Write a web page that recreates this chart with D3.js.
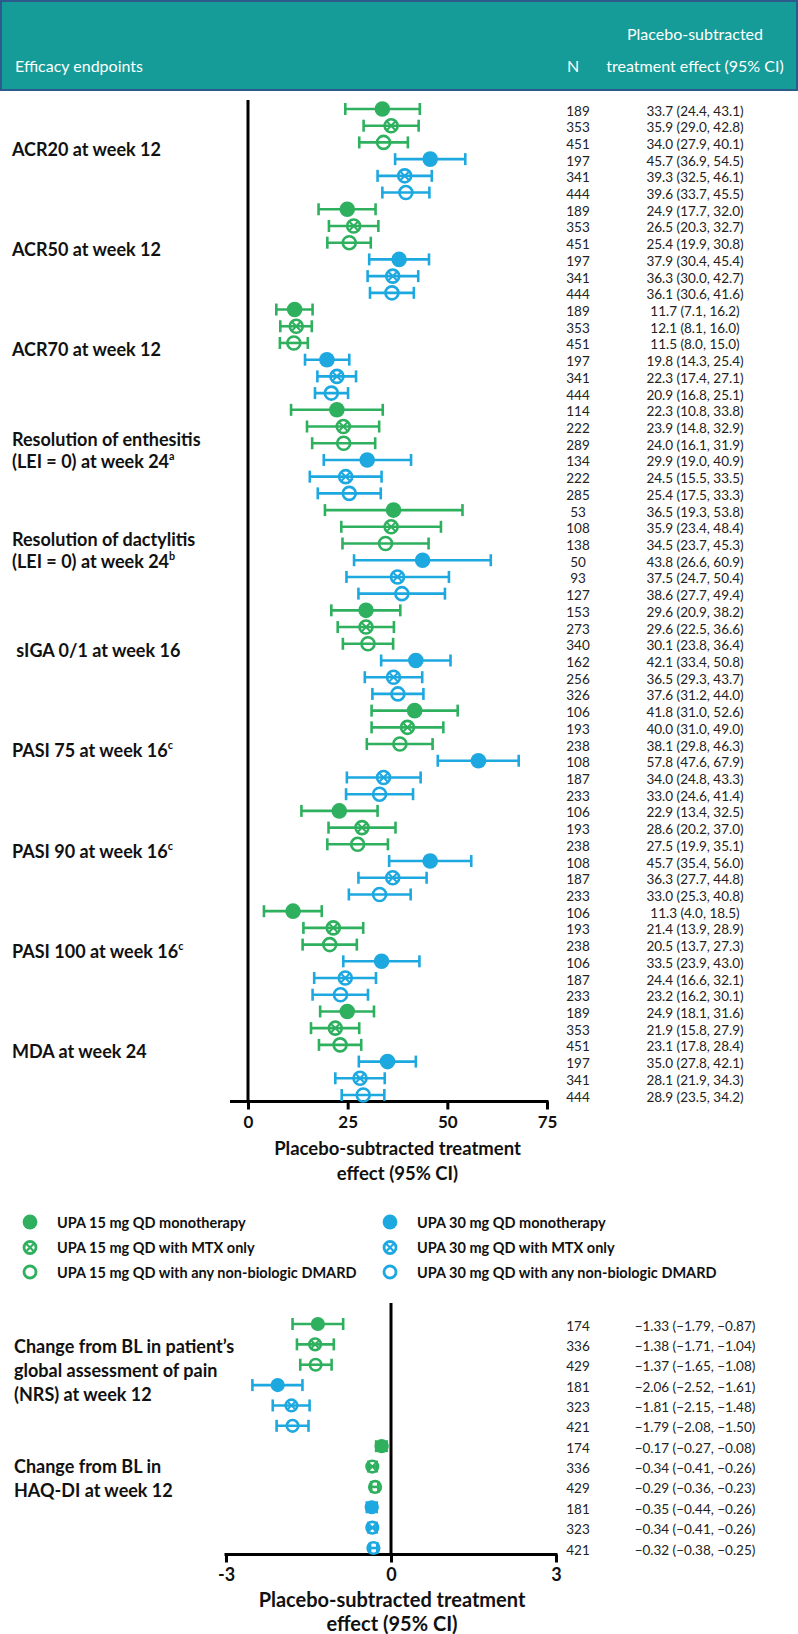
<!DOCTYPE html>
<html><head><meta charset="utf-8">
<script src="https://cdn.jsdelivr.net/npm/d3@7"></script>
<style>
body{margin:0;background:#fff;}
svg{display:block;font-family:Lato,'Open Sans',sans-serif;}
</style></head><body>
<svg id="c" width="798" height="1634"></svg>
<script>
// ---------------- DATA ----------------
const treatments = ["UPA 15 mg QD monotherapy","UPA 15 mg QD with MTX only","UPA 15 mg QD with any non-biologic DMARD",
                    "UPA 30 mg QD monotherapy","UPA 30 mg QD with MTX only","UPA 30 mg QD with any non-biologic DMARD"];
const treatmentDose = ["15","15","15","30","30","30"];
const treatmentMarker = ["filled","crossed","open","filled","crossed","open"];

const topEndpoints = [
  ["ACR20 at week 12"],["ACR50 at week 12"],["ACR70 at week 12"],
  ["Resolution of enthesitis","(LEI = 0) at week 24^a"],
  ["Resolution of dactylitis","(LEI = 0) at week 24^b"],
  [" sIGA 0/1 at week 16"],["PASI 75 at week 16^c"],["PASI 90 at week 16^c"],
  ["PASI 100 at week 16^c"],["MDA at week 24"]];
const topN = [189,353,451,197,341,444, 189,353,451,197,341,444, 189,353,451,197,341,444,
  114,222,289,134,222,285, 53,108,138,50,93,127, 153,273,340,162,256,326,
  106,193,238,108,187,233, 106,193,238,108,187,233, 106,193,238,106,187,233,
  189,353,451,197,341,444];
const topEst = [33.7,35.9,34.0,45.7,39.3,39.6, 24.9,26.5,25.4,37.9,36.3,36.1, 11.7,12.1,11.5,19.8,22.3,20.9,
  22.3,23.9,24.0,29.9,24.5,25.4, 36.5,35.9,34.5,43.8,37.5,38.6, 29.6,29.6,30.1,42.1,36.5,37.6,
  41.8,40.0,38.1,57.8,34.0,33.0, 22.9,28.6,27.5,45.7,36.3,33.0, 11.3,21.4,20.5,33.5,24.4,23.2,
  24.9,21.9,23.1,35.0,28.1,28.9];
const topLo = [24.4,29.0,27.9,36.9,32.5,33.7, 17.7,20.3,19.9,30.4,30.0,30.6, 7.1,8.1,8.0,14.3,17.4,16.8,
  10.8,14.8,16.1,19.0,15.5,17.5, 19.3,23.4,23.7,26.6,24.7,27.7, 20.9,22.5,23.8,33.4,29.3,31.2,
  31.0,31.0,29.8,47.6,24.8,24.6, 13.4,20.2,19.9,35.4,27.7,25.3, 4.0,13.9,13.7,23.9,16.6,16.2,
  18.1,15.8,17.8,27.8,21.9,23.5];
const topHi = [43.1,42.8,40.1,54.5,46.1,45.5, 32.0,32.7,30.8,45.4,42.7,41.6, 16.2,16.0,15.0,25.4,27.1,25.1,
  33.8,32.9,31.9,40.9,33.5,33.3, 53.8,48.4,45.3,60.9,50.4,49.4, 38.2,36.6,36.4,50.8,43.7,44.0,
  52.6,49.0,46.3,67.9,43.3,41.4, 32.5,37.0,35.1,56.0,44.8,40.8, 18.5,28.9,27.3,43.0,32.1,30.1,
  31.6,27.9,28.4,42.1,34.3,34.2];
const topTicks = [0,25,50,75];

const bottomEndpoints = [["Change from BL in patient\u2019s","global assessment of pain","(NRS) at week 12"],
                         ["Change from BL in","HAQ-DI at week 12"]];
const bottomN = [174,336,429,181,323,421, 174,336,429,181,323,421];
const bottomEst = [-1.33,-1.38,-1.37,-2.06,-1.81,-1.79, -0.17,-0.34,-0.29,-0.35,-0.34,-0.32];
const bottomLo = [-1.79,-1.71,-1.65,-2.52,-2.15,-2.08, -0.27,-0.41,-0.36,-0.44,-0.41,-0.38];
const bottomHi = [-0.87,-1.04,-1.08,-1.61,-1.48,-1.50, -0.08,-0.26,-0.23,-0.26,-0.26,-0.25];
const bottomTicks = [-3,0,3];

// ---------------- STYLE ----------------
const doseColor = {"15":"#2eb05e","30":"#1da8e0"};
const svg = d3.select("#c");

// header
svg.append("rect").attr("x",1).attr("y",1).attr("width",796).attr("height",89)
  .attr("fill","#159c98").attr("stroke","#2d5a8c").attr("stroke-width",2);
const hdr = svg.append("g").attr("fill","#fff").style("font-size","16px");
hdr.append("text").attr("x",15).attr("y",65).attr("dominant-baseline","central").text("Efficacy endpoints");
hdr.append("text").attr("x",573).attr("y",65).attr("text-anchor","middle").attr("dominant-baseline","central").text("N");
hdr.append("text").attr("x",695).attr("y",33).attr("text-anchor","middle").attr("dominant-baseline","central").text("Placebo-subtracted");
hdr.append("text").attr("x",695).attr("y",65).attr("text-anchor","middle").attr("dominant-baseline","central").text("treatment effect (95% CI)");

function marker(g, type, color, r, sw){
  if(type==="filled"){
    g.append("circle").attr("r",r+sw/2).attr("fill",color);
  } else {
    g.append("circle").attr("r",r).attr("fill","none").attr("stroke",color).attr("stroke-width",sw);
    if(type==="crossed"){
      const k=r*0.72;
      g.append("path").attr("d",`M${-k},${-k}L${k},${k}M${-k},${k}L${k},${-k}`)
        .attr("stroke",color).attr("stroke-width",sw*0.8);
    }
  }
}

function addLabel(sel, x, y, str, size){
  const t = sel.append("text").attr("x",x).attr("y",y).attr("dominant-baseline","central")
    .style("font-weight","700").style("font-size",size+"px").attr("fill","#111").attr("xml:space","preserve");
  const parts = str.split("^");
  t.append("tspan").text(parts[0]);
  if(parts[1]) t.append("tspan").attr("dy",-6).style("font-size",(size*0.6)+"px").text(parts[1]);
}

function forest(opts){
  const {x, y, n, est, lo, hi, fmt, r, capH, sw} = opts;
  const g = svg.append("g");
  d3.range(n.length).forEach(i=>{
    const t = i%6, color = doseColor[treatmentDose[t]], yy = y(i);
    const eg = g.append("g").attr("stroke",color).attr("stroke-width",sw).attr("fill","none");
    eg.append("line").attr("x1",x(lo[i])).attr("x2",x(hi[i])).attr("y1",yy).attr("y2",yy);
    eg.append("line").attr("x1",x(lo[i])).attr("x2",x(lo[i])).attr("y1",yy-capH/2).attr("y2",yy+capH/2);
    eg.append("line").attr("x1",x(hi[i])).attr("x2",x(hi[i])).attr("y1",yy-capH/2).attr("y2",yy+capH/2);
    marker(g.append("g").attr("transform",`translate(${x(est[i])},${yy})`), treatmentMarker[t], color, r, sw);
    g.append("text").attr("x",578).attr("y",yy+1.5).attr("text-anchor","middle").attr("dominant-baseline","central")
      .style("font-size","13.5px").attr("fill","#222").text(n[i]);
    g.append("text").attr("x",695).attr("y",yy+1.5).attr("text-anchor","middle").attr("dominant-baseline","central")
      .style("font-size","13.5px").attr("fill","#222").text(`${fmt(est[i])} (${fmt(lo[i])}, ${fmt(hi[i])})`);
  });
}

// ---------------- TOP CHART ----------------
const x1 = d3.scaleLinear().domain([0,75]).range([248,547]);
const y1 = d3.scalePoint().domain(d3.range(topN.length)).range([109,1095]);
const ax1Y = 1101.5;
svg.append("line").attr("x1",x1(0)).attr("x2",x1(0)).attr("y1",100).attr("y2",ax1Y).attr("stroke","#000").attr("stroke-width",3);
svg.append("line").attr("x1",230).attr("x2",x1(75)+1.5).attr("y1",ax1Y).attr("y2",ax1Y).attr("stroke","#000").attr("stroke-width",3);
const a1 = svg.append("g").attr("transform",`translate(0,${ax1Y})`)
  .call(d3.axisBottom(x1).tickValues(topTicks).tickSize(8).tickSizeOuter(0).tickPadding(6).tickFormat(d=>String(d)));
a1.select(".domain").remove();
a1.selectAll(".tick line").attr("stroke","#000").attr("stroke-width",3);
a1.selectAll(".tick text").attr("fill","#111").style("font-size","17px").style("font-weight","700").style("font-family","Lato,sans-serif");
svg.append("text").attr("x",397.5).attr("y",1148).attr("text-anchor","middle").attr("dominant-baseline","central")
  .style("font-size","18.5px").style("font-weight","700").attr("fill","#111").text("Placebo-subtracted treatment");
svg.append("text").attr("x",397.5).attr("y",1172.5).attr("text-anchor","middle").attr("dominant-baseline","central")
  .style("font-size","18.5px").style("font-weight","700").attr("fill","#111").text("effect (95% CI)");

forest({x:x1, y:y1, n:topN, est:topEst, lo:topLo, hi:topHi, fmt:d3.format(".1f"), r:6.5, capH:12, sw:2.6});

topEndpoints.forEach((lines,gi)=>{
  const c = (y1(gi*6)+y1(gi*6+5))/2 - 2;
  const lh = 22;
  lines.forEach((s,li)=>addLabel(svg, 12, c + (li-(lines.length-1)/2)*lh, s, 18));
});

// ---------------- LEGEND ----------------
const legX = [30,390], legY = [1222,1247.5,1272];
treatments.forEach((t,i)=>{
  const col = Math.floor(i/3), row = i%3;
  const g = svg.append("g").attr("transform",`translate(${legX[col]},${legY[row]})`);
  marker(g, treatmentMarker[i], doseColor[treatmentDose[i]], 6, 2.8);
  svg.append("text").attr("x",legX[col]+27).attr("y",legY[row]).attr("dominant-baseline","central")
    .style("font-size","14.5px").style("font-weight","700").attr("fill","#111").text(t);
});

// ---------------- BOTTOM CHART ----------------
const x2 = d3.scaleLinear().domain([-3,3]).range([226,556]);
const y2 = d3.scalePoint().domain(d3.range(bottomN.length)).range([1324,1548]);
const ax2Y = 1554.5;
svg.append("line").attr("x1",x2(0)).attr("x2",x2(0)).attr("y1",1303).attr("y2",ax2Y).attr("stroke","#000").attr("stroke-width",3);
svg.append("line").attr("x1",x2(-3)-1.5).attr("x2",x2(3)+1.5).attr("y1",ax2Y).attr("y2",ax2Y).attr("stroke","#000").attr("stroke-width",3);
const a2 = svg.append("g").attr("transform",`translate(0,${ax2Y})`)
  .call(d3.axisBottom(x2).tickValues(bottomTicks).tickSize(8).tickSizeOuter(0).tickPadding(6).tickFormat(d=>String(d)));
a2.select(".domain").remove();
a2.selectAll(".tick line").attr("stroke","#000").attr("stroke-width",3);
a2.selectAll(".tick text").attr("fill","#111").style("font-size","18px").style("font-weight","700").style("font-family","Lato,sans-serif");
svg.append("text").attr("x",392).attr("y",1599).attr("text-anchor","middle").attr("dominant-baseline","central")
  .style("font-size","20px").style("font-weight","700").attr("fill","#111").text("Placebo-subtracted treatment");
svg.append("text").attr("x",392).attr("y",1623).attr("text-anchor","middle").attr("dominant-baseline","central")
  .style("font-size","20px").style("font-weight","700").attr("fill","#111").text("effect (95% CI)");

forest({x:x2, y:y2, n:bottomN, est:bottomEst, lo:bottomLo, hi:bottomHi, fmt:d3.format(".2f"), r:5.8, capH:12, sw:2.6});

const botLabelTop = [1346, 1466];
bottomEndpoints.forEach((lines,gi)=>{
  lines.forEach((s,li)=>addLabel(svg, 14, botLabelTop[gi] + li*24, s, 18));
});
</script>
</body></html>
